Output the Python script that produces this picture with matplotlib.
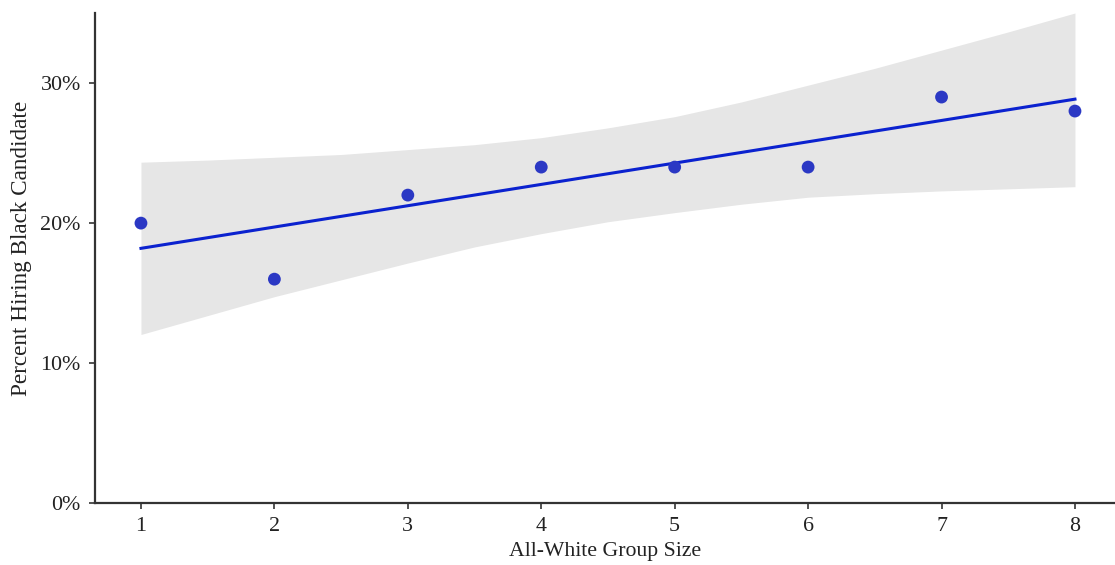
import numpy as np
import matplotlib
matplotlib.use("Agg")
import matplotlib.pyplot as plt
from matplotlib.ticker import PercentFormatter

plt.rcParams['font.family'] = ['Liberation Serif', 'DejaVu Serif']

# data (percent)
group_size = [1, 2, 3, 4, 5, 6, 7, 8]
pct_hiring = [20, 16, 22, 24, 24, 24, 29, 28]

# fitted line end points and confidence band
fit_x = [1, 8]
fit_y = [18.2, 28.85]
band_x = [1, 1.5, 2, 2.5, 3, 3.5, 4, 4.5, 5, 5.5, 6, 6.5, 7, 7.5, 8]
band_high = [24.35, 24.5, 24.7, 24.9, 25.25, 25.6, 26.1, 26.8, 27.6, 28.65,
             29.85, 31.05, 32.35, 33.65, 35.0]
band_low = [12.05, 13.4, 14.75, 15.95, 17.15, 18.3, 19.25, 20.1, 20.75, 21.35,
            21.85, 22.1, 22.3, 22.45, 22.6]

fig = plt.figure(figsize=(11.15, 5.65), dpi=100)
ax = fig.add_axes([0.0849, 0.1092, 0.9151, 0.8678])

ax.fill_between(band_x, band_low, band_high, color='#e6e6e6', linewidth=0, zorder=1)
ax.plot(fit_x, fit_y, color='#0b22cf', linewidth=2.2, zorder=2)
ax.scatter(group_size, pct_hiring, s=85, color='#2b38c4', edgecolors='none', zorder=3)

ax.set_xlim(0.653, 8.30)
ax.set_ylim(0, 35)
ax.set_xticks(group_size)
ax.set_yticks([0, 10, 20, 30])
ax.yaxis.set_major_formatter(PercentFormatter(decimals=0))

for side in ['top', 'right']:
    ax.spines[side].set_visible(False)
for side in ['left', 'bottom']:
    ax.spines[side].set_color('#333333')
    ax.spines[side].set_linewidth(1.6)

ax.tick_params(axis='both', direction='out', length=4, width=1.2, color='#333333',
               labelsize=15.8, labelcolor='#222222', pad=6)

ax.set_xlabel('All-White Group Size', fontsize=15.7, color='#222222', labelpad=4)
ax.set_ylabel('Percent Hiring Black Candidate', fontsize=16.7, color='#222222')
ax.yaxis.set_label_coords(-0.061, 0.52)

fig.savefig('out.png', dpi=100)
